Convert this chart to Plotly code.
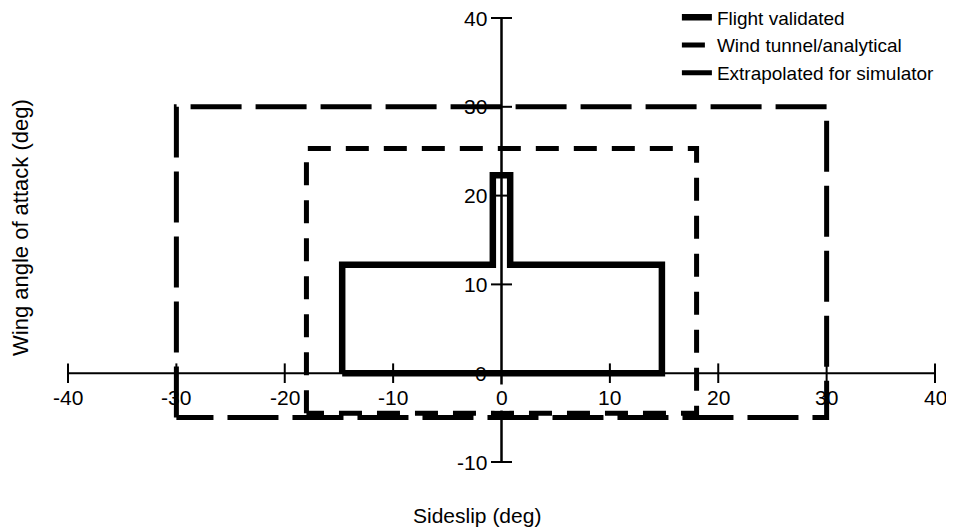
import plotly.graph_objects as go

# ---- data ----
series_names = ["Flight validated", "Wind tunnel/analytical", "Extrapolated for simulator"]

flight_x = [-14.7, -14.7, -0.8, -0.8, 0.8, 0.8, 14.8, 14.8, -14.7]
flight_y = [0, 12.2, 12.2, 22.3, 22.3, 12.2, 12.2, 0, 0]

wind_x = [-18, -18, 18, 18, -18]
wind_y = [-4.5, 25.3, 25.3, -4.5, -4.5]

extrap_x = [-30, -30, 30, 30, -30]
extrap_y = [-5, 30, 30, -5, -5]

x_ticks = [-40, -30, -20, -10, 0, 10, 20, 30, 40]
x_tick_labels = ["-40", "-30", "-20", "-10", "0", "10", "20", "30", "40"]
y_ticks = [-10, 0, 10, 20, 30, 40]
y_tick_labels = ["-10", "0", "10", "20", "30", "40"]

x_range = [-40, 40]
y_range = [-10, 40]

FONT = "Liberation Sans, Arial, Helvetica, sans-serif"

fig = go.Figure()

# axes drawn crossing at zero
fig.add_trace(go.Scatter(x=x_range, y=[0, 0], mode="lines",
                         line=dict(color="black", width=2),
                         showlegend=False, hoverinfo="skip", cliponaxis=False))
fig.add_trace(go.Scatter(x=[0, 0], y=y_range, mode="lines",
                         line=dict(color="black", width=2.5),
                         showlegend=False, hoverinfo="skip", cliponaxis=False))
tx = [v for v in x_ticks if v != 0]
fig.add_trace(go.Scatter(x=tx, y=[0] * len(tx), mode="markers",
                         marker=dict(symbol="line-ns", size=14,
                                     line=dict(color="black", width=2)),
                         showlegend=False, hoverinfo="skip", cliponaxis=False))
ty = [v for v in y_ticks if v != 0]
fig.add_trace(go.Scatter(x=[0] * len(ty), y=ty, mode="markers",
                         marker=dict(symbol="line-ew", size=15,
                                     line=dict(color="black", width=2)),
                         showlegend=False, hoverinfo="skip", cliponaxis=False))

# envelopes
fig.add_trace(go.Scatter(x=flight_x, y=flight_y, mode="lines", name=series_names[0],
                         line=dict(color="black", width=6.5), cliponaxis=False))
fig.add_trace(go.Scatter(x=wind_x, y=wind_y, mode="lines", name=series_names[1],
                         line=dict(color="black", width=5, dash="23px,15px"),
                         cliponaxis=False))
fig.add_trace(go.Scatter(x=extrap_x, y=extrap_y, mode="lines", name=series_names[2],
                         line=dict(color="black", width=5, dash="51px,14px"),
                         cliponaxis=False))

annotations = []
for v, t in zip(x_ticks, x_tick_labels):
    annotations.append(dict(x=v, y=0, xref="x", yref="y", text=t, showarrow=False,
                            xanchor="center", yanchor="top", yshift=-11,
                            bgcolor="white" if v == 0 else "rgba(0,0,0,0)",
                            font=dict(family=FONT, size=21, color="black")))
for v, t in zip(y_ticks, y_tick_labels):
    annotations.append(dict(x=0, y=v, xref="x", yref="y", text=t, showarrow=False,
                            xanchor="right", yanchor="middle", xshift=-13,
                            font=dict(family=FONT, size=21, color="black")))

annotations.append(dict(x=0.5, y=0, xref="paper", yref="paper", text="Sideslip (deg)",
                        showarrow=False, xanchor="center", yanchor="top",
                        xshift=-25, yshift=-40,
                        font=dict(family=FONT, size=21, color="black")))
annotations.append(dict(x=0, y=0.527, xref="paper", yref="paper",
                        text="Wing angle of attack (deg)", textangle=-90,
                        showarrow=False, xanchor="center", yanchor="middle",
                        xshift=-48,
                        font=dict(family=FONT, size=22, color="black")))

# the page body adds an 8px offset, so the figure is sized 8px smaller
fig.update_layout(
    width=946, height=521,
    margin=dict(l=60, r=19, t=10, b=67, autoexpand=False),
    paper_bgcolor="white", plot_bgcolor="white",
    xaxis=dict(range=x_range, visible=False, fixedrange=True),
    yaxis=dict(range=y_range, visible=False, fixedrange=True),
    showlegend=True,
    legend=dict(x=0.7023, y=1.044, xanchor="left", yanchor="top",
                bgcolor="rgba(0,0,0,0)", borderwidth=0,
                font=dict(family=FONT, size=19, color="black"),
                tracegroupgap=0),
    annotations=annotations,
)

fig.write_html("out.html")
